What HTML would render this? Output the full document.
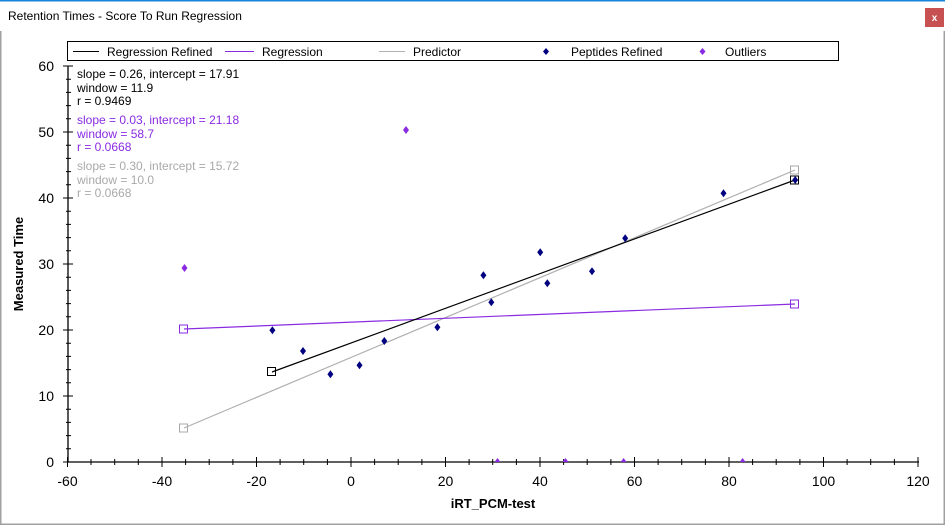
<!DOCTYPE html>
<html><head><meta charset="utf-8"><style>
html,body{margin:0;padding:0;background:#fff;}
svg{display:block;font-family:"Liberation Sans",Arial,sans-serif;}
</style></head><body>
<svg width="945" height="525" viewBox="0 0 945 525" xmlns="http://www.w3.org/2000/svg">
<rect width="945" height="525" fill="#fff"/>
<rect x="0" y="0" width="945" height="1.5" fill="#1883d7"/>
<text x="8" y="20" font-size="12" fill="#000">Retention Times - Score To Run Regression</text>
<rect x="925" y="8" width="19" height="19" fill="#c75050"/>
<text x="934.5" y="21" font-size="10" font-weight="bold" fill="#fff" text-anchor="middle">x</text>
<rect x="0" y="31" width="1.5" height="494" fill="#a0a0a0"/>
<rect x="943.5" y="31" width="1.5" height="494" fill="#a0a0a0"/>
<rect x="0" y="523.5" width="945" height="1.5" fill="#a0a0a0"/>

<!-- legend -->
<rect x="67.5" y="41.5" width="771" height="19" fill="#fff" stroke="#000" stroke-width="1"/>
<g font-size="12">
<line x1="73" y1="51.5" x2="99" y2="51.5" stroke="#000"/>
<text x="107" y="56" fill="#000">Regression Refined</text>
<line x1="225" y1="51.5" x2="254" y2="51.5" stroke="#8a2be2"/>
<text x="262" y="56" fill="#000">Regression</text>
<line x1="379" y1="51.5" x2="405" y2="51.5" stroke="#b0b0b0"/>
<text x="413" y="56" fill="#000">Predictor</text>
<path d="M546 48 L549 51.5 L546 55 L543 51.5Z" fill="#000080"/>
<text x="571" y="56" fill="#000">Peptides Refined</text>
<path d="M702.5 48 L705.5 51.5 L702.5 55 L699.5 51.5Z" fill="#8a2be2"/>
<text x="725" y="56" fill="#000">Outliers</text>
</g>

<!-- stats -->
<g font-size="12">
<text x="77" y="78" fill="#000">slope = 0.26, intercept = 17.91</text>
<text x="77" y="92" fill="#000">window = 11.9</text>
<text x="77" y="105" fill="#000">r = 0.9469</text>
<text x="77" y="124" fill="#8a2be2">slope = 0.03, intercept = 21.18</text>
<text x="77" y="138" fill="#8a2be2">window = 58.7</text>
<text x="77" y="151" fill="#8a2be2">r = 0.0668</text>
<text x="77" y="170" fill="#a9a9a9">slope = 0.30, intercept = 15.72</text>
<text x="77" y="184" fill="#a9a9a9">window = 10.0</text>
<text x="77" y="197" fill="#a9a9a9">r = 0.0668</text>
</g>

<!-- axes -->
<g stroke="#000" stroke-width="1.3">
<line x1="68" y1="66" x2="68" y2="462"/>
<line x1="68" y1="462" x2="919" y2="462"/>
</g>
<g stroke="#000" stroke-width="1" id="ticks">
<!-- y major -->
<line x1="63" y1="462" x2="73" y2="462"/><line x1="63" y1="396" x2="73" y2="396"/>
<line x1="63" y1="330" x2="73" y2="330"/><line x1="63" y1="264" x2="73" y2="264"/>
<line x1="63" y1="198" x2="73" y2="198"/><line x1="63" y1="132" x2="73" y2="132"/>
<line x1="63" y1="66" x2="73" y2="66"/>
</g>
<g stroke="#000" stroke-width="1">
<path d="M66 448.8h5M66 435.6h5M66 422.4h5M66 409.2h5
M66 382.8h5M66 369.6h5M66 356.4h5M66 343.2h5
M66 316.8h5M66 303.6h5M66 290.4h5M66 277.2h5
M66 250.8h5M66 237.6h5M66 224.4h5M66 211.2h5
M66 184.8h5M66 171.6h5M66 158.4h5M66 145.2h5
M66 118.8h5M66 105.6h5M66 92.4h5M66 79.2h5"/>
<path d="M67.5 457v10M162 457v10M256.5 457v10M351 457v10M445.5 457v10M540 457v10M634.5 457v10M729 457v10M823.5 457v10M918 457v10"/>
<path d="M91 459v6M114.7 459v6M138.3 459v6M185.6 459v6M209.2 459v6M232.9 459v6M280.1 459v6M303.7 459v6M327.4 459v6M374.6 459v6M398.2 459v6M421.9 459v6M469.1 459v6M492.7 459v6M516.4 459v6M563.6 459v6M587.2 459v6M610.9 459v6M658.1 459v6M681.7 459v6M705.4 459v6M752.6 459v6M776.2 459v6M799.9 459v6M847.1 459v6M870.7 459v6M894.4 459v6"/>
</g>
<g font-size="14" fill="#000" text-anchor="end">
<text x="54" y="467">0</text><text x="54" y="401">10</text><text x="54" y="335">20</text>
<text x="54" y="269">30</text><text x="54" y="203">40</text><text x="54" y="137">50</text><text x="54" y="71">60</text>
</g>
<g font-size="14" fill="#000" text-anchor="middle">
<text x="67.5" y="486">-60</text><text x="162" y="486">-40</text><text x="256.5" y="486">-20</text>
<text x="351" y="486">0</text><text x="445.5" y="486">20</text><text x="540" y="486">40</text>
<text x="634.5" y="486">60</text><text x="729" y="486">80</text><text x="823.5" y="486">100</text><text x="918" y="486">120</text>
</g>
<text x="493" y="508" font-size="13" font-weight="bold" text-anchor="middle">iRT_PCM-test</text>
<text transform="translate(23,264) rotate(-90)" font-size="13" font-weight="bold" text-anchor="middle">Measured Time</text>

<!-- lines -->
<line x1="184" y1="428" x2="795" y2="170" stroke="#b0b0b0" stroke-width="1.2"/>
<line x1="184" y1="329" x2="795" y2="304" stroke="#8a2be2" stroke-width="1.2"/>
<line x1="272" y1="372" x2="795" y2="180" stroke="#000" stroke-width="1.2"/>

<!-- points -->
<g fill="#000080">
<path id="d" d="M0 -4L3 0L0 4L-3 0Z" transform="translate(272.4,330.3)"/>
<path d="M0 -4L3 0L0 4L-3 0Z" transform="translate(303,351)"/>
<path d="M0 -4L3 0L0 4L-3 0Z" transform="translate(330.4,374.3)"/>
<path d="M0 -4L3 0L0 4L-3 0Z" transform="translate(359.5,365.3)"/>
<path d="M0 -4L3 0L0 4L-3 0Z" transform="translate(384.3,341)"/>
<path d="M0 -4L3 0L0 4L-3 0Z" transform="translate(437.4,327.3)"/>
<path d="M0 -4L3 0L0 4L-3 0Z" transform="translate(483.4,275.3)"/>
<path d="M0 -4L3 0L0 4L-3 0Z" transform="translate(491.3,302.3)"/>
<path d="M0 -4L3 0L0 4L-3 0Z" transform="translate(540.2,252.3)"/>
<path d="M0 -4L3 0L0 4L-3 0Z" transform="translate(547.3,283.3)"/>
<path d="M0 -4L3 0L0 4L-3 0Z" transform="translate(592,271.3)"/>
<path d="M0 -4L3 0L0 4L-3 0Z" transform="translate(625.2,238.3)"/>
<path d="M0 -4L3 0L0 4L-3 0Z" transform="translate(723.5,193.3)"/>
<path d="M0 -4L3 0L0 4L-3 0Z" transform="translate(795.2,180)"/>
</g>
<g fill="#8a2be2">
<path d="M0 -4L3 0L0 4L-3 0Z" transform="translate(184.5,268)"/>
<path d="M0 -4L3 0L0 4L-3 0Z" transform="translate(406,130)"/>
<path d="M0 -4L3 0L0 0L-3 0Z" transform="translate(497.5,462)"/>
<path d="M0 -4L3 0L0 0L-3 0Z" transform="translate(565.5,462)"/>
<path d="M0 -4L3 0L0 0L-3 0Z" transform="translate(623.6,462)"/>
<path d="M0 -4L3 0L0 0L-3 0Z" transform="translate(742.6,462)"/>
</g>
<!-- squares -->
<g fill="none" stroke-width="1">
<rect x="179.5" y="424" width="8" height="8" stroke="#a9a9a9"/>
<rect x="790.5" y="166" width="8" height="8" stroke="#a9a9a9"/>
<rect x="179.5" y="325" width="8" height="8" stroke="#8a2be2"/>
<rect x="790.5" y="300" width="8" height="8" stroke="#8a2be2"/>
<rect x="267.5" y="367.5" width="8" height="8" stroke="#000"/>
<rect x="790.5" y="176" width="8" height="8" stroke="#000"/>
</g>
</svg>
</body></html>
